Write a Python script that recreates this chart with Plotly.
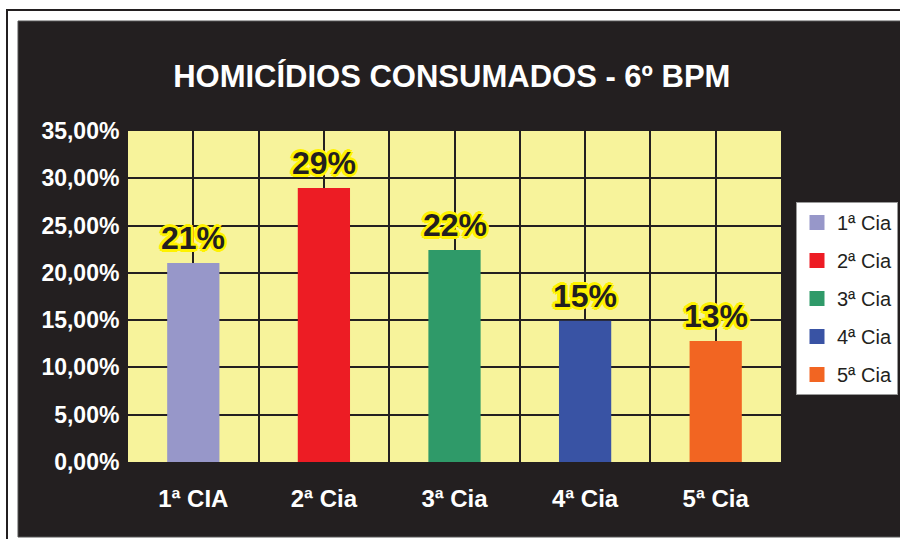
import plotly.graph_objects as go

# ---- data ----
categories = ["1ª CIA", "2ª Cia", "3ª Cia", "4ª Cia", "5ª Cia"]
series_names = ["1ª Cia", "2ª Cia", "3ª Cia", "4ª Cia", "5ª Cia"]
values = [0.2104, 0.2897, 0.2242, 0.1494, 0.1280]
value_labels = ["21%", "29%", "22%", "15%", "13%"]
bar_colors = ["#9797c9", "#ed1c24", "#2f9a69", "#3953a4", "#f26522"]
y_ticks = [0, 0.05, 0.10, 0.15, 0.20, 0.25, 0.30, 0.35]

FONT = "Liberation Sans, Arial, sans-serif"
DARK = "#231f20"
YELLOW_BG = "#f7f39b"
HALO = "#fff200"

fig = go.Figure()
xpos = list(range(len(categories)))
for i, name in enumerate(series_names):
    fig.add_trace(go.Bar(
        x=[xpos[i]], y=[values[i]], name=name, width=0.4,
        marker=dict(color=bar_colors[i], line=dict(width=0)),
        legendgroup=name, showlegend=False, hoverinfo="skip",
    ))
    # legend swatch (square key, as in the original legend)
    fig.add_trace(go.Scatter(
        x=[None], y=[None], mode="markers", name=name, legendgroup=name,
        marker=dict(symbol="square", size=15, color=bar_colors[i], line=dict(width=0)),
        hoverinfo="skip",
    ))

halo = ", ".join(f"{dx}px {dy}px 0 {HALO}" for dx, dy in
                 [(2, 0), (-2, 0), (0, 2), (0, -2), (2, 2), (-2, -2), (2, -2), (-2, 2),
                  (3, 0), (-3, 0), (0, 3), (0, -3)])
for i, lab in enumerate(value_labels):
    fig.add_annotation(x=xpos[i], y=values[i], text=lab, showarrow=False,
                       yanchor="bottom", yshift=5,
                       font=dict(family=FONT, size=32, color=DARK, weight="bold", shadow=halo))

# background panels
fig.add_shape(type="rect", xref="paper", yref="paper",
              x0=(7 - 128) / 653, x1=(905 - 128) / 653,
              y0=(462 - 545) / 331, y1=(462 - 10) / 331,
              line=dict(color=DARK, width=2), fillcolor="white", layer="below")
fig.add_shape(type="rect", xref="paper", yref="paper",
              x0=(18 - 128) / 653, x1=(905 - 128) / 653,
              y0=(462 - 537) / 331, y1=(462 - 21) / 331,
              line=dict(color="#555555", width=1), fillcolor=DARK, layer="below")
fig.add_shape(type="rect", xref="paper", yref="paper",
              x0=0, x1=1, y0=0, y1=1,
              line=dict(width=0), fillcolor=YELLOW_BG, layer="below")

fig.update_layout(
    width=900, height=539,
    margin=dict(l=128, r=119, t=131, b=77, autoexpand=False),
    paper_bgcolor="white", plot_bgcolor=YELLOW_BG,
    separators=",.",
    barmode="overlay",
    title=dict(text="HOMICÍDIOS CONSUMADOS - 6º BPM", xref="container", x=0.502,
               xanchor="center", y=1 - 76 / 539, yanchor="middle",
               font=dict(family=FONT, size=31, color="white", weight="bold")),
    showlegend=True,
    legend=dict(x=(796 - 128) / 653, y=(462 - 202) / 331, xanchor="left", yanchor="top",
                bgcolor="white", bordercolor="#9a9a9a", borderwidth=1,
                font=dict(family=FONT, size=20, color=DARK),
                traceorder="grouped", tracegroupgap=9),
    xaxis=dict(range=[-0.5, len(categories) - 0.5], tickmode="array", tickvals=xpos,
               ticktext=categories, ticks="", ticklabelstandoff=14,
               tickfont=dict(family=FONT, size=24, color="white", weight="bold"),
               showgrid=True, gridcolor=DARK, gridwidth=2,
               minor=dict(tickmode="linear", tick0=0.5, dtick=1, showgrid=True,
                          gridcolor=DARK, gridwidth=2, ticks=""),
               showline=True, linecolor=DARK, linewidth=2, mirror=True, zeroline=False),
    yaxis=dict(range=[0, 0.35], tickmode="array", tickvals=y_ticks, tickformat=".2%",
               ticks="", ticklabelstandoff=1,
               tickfont=dict(family=FONT, size=23, color="white", weight="bold"),
               showgrid=True, gridcolor=DARK, gridwidth=2,
               showline=True, linecolor=DARK, linewidth=3, mirror=True, zeroline=False),
)

fig.write_html("out.html", config={"displayModeBar": False},
               post_script="document.body.style.margin='0';document.body.style.overflow='hidden';")
